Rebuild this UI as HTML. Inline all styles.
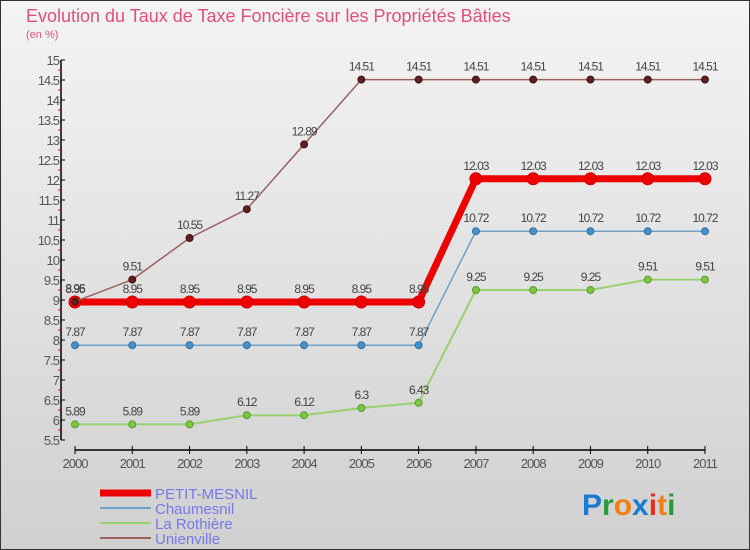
<!DOCTYPE html>
<html><head><meta charset="utf-8"><style>
body{margin:0}
svg{font-family:"Liberation Sans",sans-serif;display:block}
</style></head><body>
<svg id="c" width="750" height="550" xmlns="http://www.w3.org/2000/svg">
<defs><linearGradient id="bg" x1="0" y1="0" x2="0" y2="1"><stop offset="0" stop-color="#f4f4f4"/><stop offset="1" stop-color="#d0d0d0"/></linearGradient></defs>
<rect x="0.5" y="0.5" width="749" height="549" fill="url(#bg)" stroke="#333"/>
<text x="26" y="22" font-size="18" fill="#e0507a">Evolution du Taux de Taxe Foncière sur les Propriétés Bâties</text>
<text x="26" y="38" font-size="11" fill="#e0507a">(en %)</text>
<g id="axes"></g><g id="series"></g>
<g>
<line x1="100" y1="493" x2="151" y2="493" stroke="#ee0000" stroke-width="7"/>
<text x="155" y="499" font-size="15" fill="#7777ee">PETIT-MESNIL</text>
<line x1="100" y1="508" x2="151" y2="508" stroke="#6fa0c8" stroke-width="2"/>
<text x="155" y="514" font-size="15" fill="#7777ee">Chaumesnil</text>
<line x1="100" y1="523" x2="151" y2="523" stroke="#99d070" stroke-width="2"/>
<text x="155" y="529" font-size="15" fill="#7777ee">La Rothière</text>
<line x1="100" y1="538" x2="151" y2="538" stroke="#9a6060" stroke-width="2"/>
<text x="155" y="544" font-size="15" fill="#7777ee">Unienville</text>
</g>
<text x="582" y="515" font-size="30" font-weight="bold"><tspan fill="#1a7ad0">P</tspan><tspan fill="#2a9a3a">r</tspan><tspan fill="#f08010">o</tspan><tspan fill="#1a7ad0">x</tspan><tspan fill="#e03020">i</tspan><tspan fill="#f08010">t</tspan><tspan fill="#2a9a3a">i</tspan></text>
</svg>
<script>
const years=["2000","2001","2002","2003","2004","2005","2006","2007","2008","2009","2010","2011"];
const petitMesnil=[8.95,8.95,8.95,8.95,8.95,8.95,8.95,12.03,12.03,12.03,12.03,12.03];
const chaumesnil=[7.87,7.87,7.87,7.87,7.87,7.87,7.87,10.72,10.72,10.72,10.72,10.72];
const laRothiere=[5.89,5.89,5.89,6.12,6.12,6.3,6.43,9.25,9.25,9.25,9.51,9.51];
const unienville=[8.96,9.51,10.55,11.27,12.89,14.51,14.51,14.51,14.51,14.51,14.51,14.51];
const yTicks=[5.5,6,6.5,7,7.5,8,8.5,9,9.5,10,10.5,11,11.5,12,12.5,13,13.5,14,14.5,15];
const NS="http://www.w3.org/2000/svg";
const X=i=>75+i*(705-75)/(years.length-1);
const Y=v=>60+(15-v)*40;
function mk(t,a,p){const e=document.createElementNS(NS,t);for(const k in a)e.setAttribute(k,a[k]);p.appendChild(e);return e;}
const ax=document.getElementById('axes');
let e=mk('line',{x1:61,y1:Y(15),x2:61,y2:Y(5.5),stroke:'#000','stroke-width':1.5},ax);

yTicks.forEach(v=>{let t=mk('line',{x1:61,y1:Y(v),x2:65,y2:Y(v),stroke:'#000'},ax);

if(v<15){let m=mk('line',{x1:58,y1:Y(v+0.25),x2:61,y2:Y(v+0.25),stroke:'#e00'},ax);
}
let l=mk('text',{x:59,y:Y(v)+5,'font-size':13,fill:'#555','text-anchor':'end','letter-spacing':'-1'},ax);l.textContent=String(v);
});
e=mk('line',{x1:X(0),y1:450,x2:X(11),y2:450,stroke:'#000','stroke-width':1.5},ax);

years.forEach((y,i)=>{let t=mk('line',{x1:X(i),y1:446,x2:X(i),y2:454,stroke:'#000'},ax);

let l=mk('text',{x:X(i),y:468,'font-size':13,fill:'#555','text-anchor':'middle','letter-spacing':'-1'},ax);l.textContent=y;
});
const sg=document.getElementById('series');
function series(data,name,color,w,r,dot,dotStroke){
const g=mk('g',{},sg);
let p=mk('polyline',{points:data.map((v,i)=>X(i)+','+Y(v)).join(' '),fill:'none',stroke:color,'stroke-width':w,'stroke-linejoin':'round'},g);

data.forEach((v,i)=>{let c=mk('circle',{cx:X(i),cy:Y(v),r:r,fill:dot,stroke:dotStroke,'stroke-width':1},g);

let l=mk('text',{x:X(i),y:Y(v)-9,'font-size':12,fill:'#444','text-anchor':'middle','letter-spacing':'-1'},g);l.textContent=String(v);
});}
series(laRothiere,'la-rothiere','#99d070',2,3.5,'#7cc840','#5a9a30');
series(chaumesnil,'chaumesnil','#6fa0c8',1.5,3.5,'#4a90c8','#3070a0');
series(petitMesnil,'petit-mesnil','#ee0000',7,6,'#ee0000','#cc0000');
series(unienville,'unienville','#9a6060',1.5,3.5,'#602020','#401010');
</script>
</body></html>
